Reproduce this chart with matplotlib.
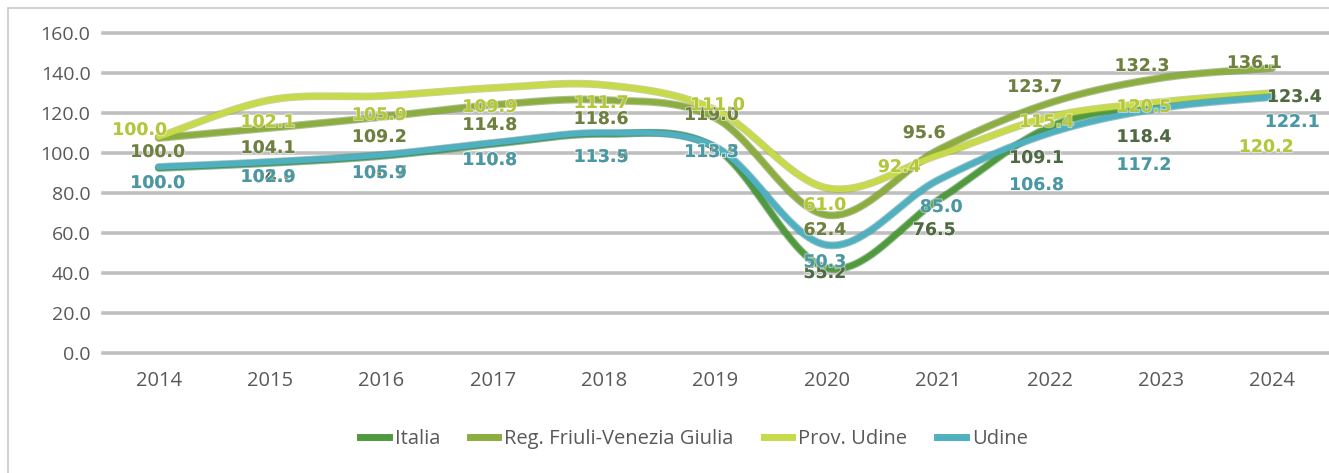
import numpy as np
import matplotlib
matplotlib.use("Agg")
import matplotlib.pyplot as plt
import matplotlib.patheffects as pe
from matplotlib.lines import Line2D
from matplotlib.patches import Rectangle

# ---------------- data ----------------
years = ["2014", "2015", "2016", "2017", "2018", "2019", "2020", "2021", "2022", "2023", "2024"]
series_names = ["Italia", "Reg. Friuli-Venezia Giulia", "Prov. Udine", "Udine"]

# curve heights as drawn in the picture
line_italia = [92.5, 95.0, 98.5, 104.5, 109.5, 102.5, 42.5, 76.5, 113.0, 124.5, 128.5]
line_fvg    = [107.5, 112.5, 118.0, 124.0, 126.5, 117.5, 69.0, 101.5, 125.0, 137.5, 142.5]
line_prov   = [108.0, 126.5, 128.5, 132.5, 134.0, 121.5, 82.5, 99.0, 118.0, 125.5, 130.0]
line_udine  = [93.0, 95.5, 99.0, 105.0, 110.0, 103.0, 54.0, 86.5, 110.0, 122.5, 128.0]

# data-label values
lab_italia = [100.0, 104.0, 106.7, 110.8, 113.9, 115.5, 55.2, 76.5, 109.1, 118.4, 123.4]
lab_fvg    = [100.0, 104.1, 109.2, 114.8, 118.6, 119.0, 62.4, 95.6, 123.7, 132.3, 136.1]
lab_prov   = [100.0, 102.1, 105.9, 109.9, 111.7, 111.0, 61.0, 92.4, 115.4, 120.5, 120.2]
lab_udine  = [100.0, 102.9, 105.9, 110.8, 113.5, 113.3, 50.3, 85.0, 106.8, 117.2, 122.1]

# label offsets from the curve point (pixels: dx right, dy down)
off_italia = [(-1, 15), (-2, 14), (-2, 17), (-3, 16), (-3, 23), (-4, 4), (-2, 5), (-4, 30), (-13, 31), (-17, 33), (22, 1)]
off_fvg    = [(-1, 14), (-2, 20), (-2, 20), (-3, 20), (-3, 19), (-4, -3), (-2, 15), (-14, -17), (-15, -16), (-19, -12), (-18, -5)]
off_prov   = [(-19, -7), (-2, 22), (-2, 19), (-3, 19), (-3, 18), (2, -5), (-2, 17), (-39, 12), (-3, 5), (-17, 5), (-6, 54)]
off_udine  = [(-1, 16), (-2, 15), (-2, 18), (-3, 17), (-3, 24), (-4, 5), (-2, 17), (3, 27), (-13, 52), (-17, 57), (20, 25)]

line_colors  = ["#4e9a3c", "#8cad3f", "#c7da4a", "#4fb0c0"]
edge_colors  = ["#3d7a2e", "#6f8a30", "#9fb03a", "#3c8c98"]
label_colors = ["#4f6a42", "#6e8040", "#b4c63c", "#4a98a4"]

lines = [line_italia, line_fvg, line_prov, line_udine]
labels = [lab_italia, lab_fvg, lab_prov, lab_udine]
offsets = [off_italia, off_fvg, off_prov, off_udine]


def excel_smooth(y, n=40):
    """Bezier smoothing in the style of spreadsheet 'smoothed lines'."""
    y = np.asarray(y, float)
    x = np.arange(len(y), dtype=float)
    xs, ys = [], []
    for i in range(len(y) - 1):
        i0 = max(i - 1, 0)
        i3 = min(i + 2, len(y) - 1)
        p0 = np.array([x[i], y[i]])
        p3 = np.array([x[i + 1], y[i + 1]])
        c1 = p0 + (np.array([x[i + 1], y[i + 1]]) - np.array([x[i0], y[i0]])) / 6.0
        c2 = p3 - (np.array([x[i3], y[i3]]) - np.array([x[i], y[i]])) / 6.0
        t = np.linspace(0, 1, n)[:, None]
        b = (1 - t) ** 3 * p0 + 3 * (1 - t) ** 2 * t * c1 + 3 * (1 - t) * t ** 2 * c2 + t ** 3 * p3
        xs.append(b[:, 0]); ys.append(b[:, 1])
    return np.concatenate(xs), np.concatenate(ys)


W, H = 1329, 473
fig = plt.figure(figsize=(W / 100, H / 100), dpi=100)
fig.patch.set_facecolor("white")

# outer chart border
fig.add_artist(Rectangle((8 / W, -0.05), 1.2, (H - 8) / H + 0.05, transform=fig.transFigure,
                         fill=False, edgecolor="#c8c8c8", linewidth=1.2))

ax = fig.add_axes([103 / W, 1 - 353 / H, (1328 - 103) / W, 320 / H])
ax.set_xlim(-0.5, len(years) - 0.5)
ax.set_ylim(0, 160)
for s in ax.spines.values():
    s.set_visible(False)

yt = np.arange(0, 161, 20)
for v in yt:
    ax.axhline(v, color="#bfbfbf", linewidth=2.6, zorder=1, clip_on=False)
ax.set_yticks(yt)
ax.set_yticklabels([f"{v:.1f}" for v in yt], fontsize=14, color="#595959", family="Open Sans")
ax.set_xticks(range(len(years)))
ax.set_xticklabels(years, fontsize=14.5, color="#595959", family="Open Sans")
ax.tick_params(axis="both", length=0)
ax.tick_params(axis="y", pad=9)
ax.tick_params(axis="x", pad=13)

for k in range(4):
    xs, ys = excel_smooth(lines[k])
    ax.plot(xs, ys, color=line_colors[k], linewidth=4.0, zorder=3 + k * 0.1, solid_capstyle="round",
            path_effects=[pe.Stroke(linewidth=5.6, foreground=edge_colors[k], alpha=0.55), pe.Normal()])

for k in [1, 2, 0, 3]:
    for i in range(len(years)):
        dx, dy = offsets[k][i]
        ax.annotate(f"{labels[k][i]:.1f}", xy=(i, lines[k][i]), xytext=(dx, -dy),
                    textcoords="offset pixels", ha="center", va="center",
                    fontsize=12.5, fontweight="bold", color=label_colors[k], family="DejaVu Sans",
                    zorder=6,
                    path_effects=[pe.withStroke(linewidth=1.5, foreground=(1, 1, 1, 0.5))])

handles = [Line2D([0], [0], color=line_colors[k], linewidth=5) for k in range(4)]
leg = fig.legend(handles, series_names, loc="center", bbox_to_anchor=(694 / W, 1 - 439 / H),
                 ncol=4, frameon=False, handlelength=1.4, handletextpad=0.3, columnspacing=1.5,
                 prop={"family": "Open Sans", "size": 14.5})
for t in leg.get_texts():
    t.set_color("#595959")

fig.savefig("out.png", dpi=100, facecolor="white")
